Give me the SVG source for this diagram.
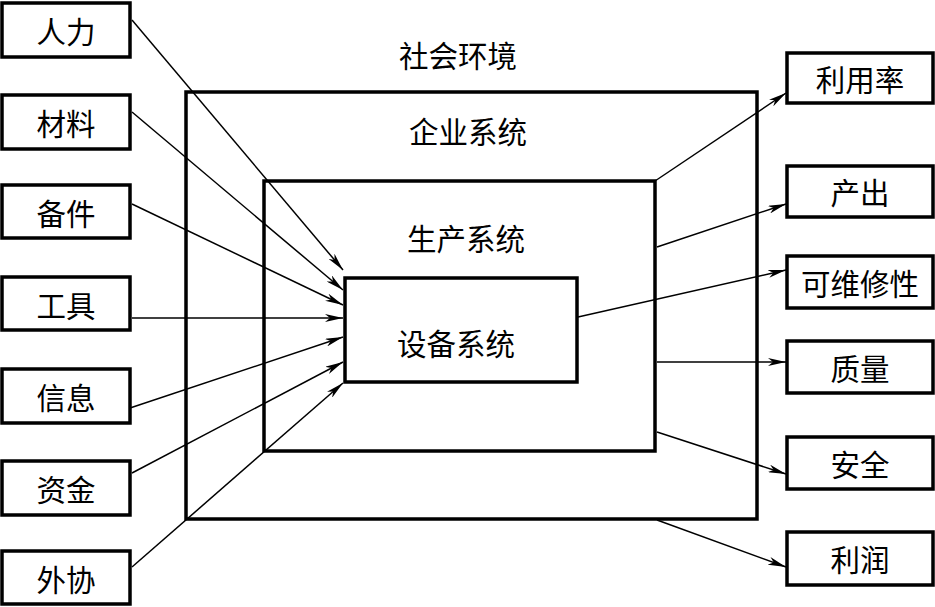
<svg xmlns="http://www.w3.org/2000/svg" width="935" height="607" viewBox="0 0 935 607">
<defs>
<marker id="ah" viewBox="0 0 18 8" refX="18" refY="4" markerWidth="18" markerHeight="8" markerUnits="userSpaceOnUse" orient="auto">
<path d="M0,0 L18,4 L0,8 L5,4 z" fill="#000"/>
</marker>
<style>
.box{fill:#fff;stroke:#000;stroke-width:3.5}
.sys{fill:none;stroke:#000;stroke-width:3.5}
.t{font-family:"Noto Sans CJK SC","Noto Sans CJK JP",sans-serif;font-size:29.5px;text-anchor:middle;dominant-baseline:central;fill:#000}
.c{fill:none;stroke:#000;stroke-width:1.5;marker-end:url(#ah)}
</style>
</defs>
<rect width="935" height="607" fill="#fff"/>
<g id="env"><text class="t" x="458" y="54">社会环境</text></g>
<g id="enterprise"><rect class="sys" x="186" y="92" width="571" height="427"/><text class="t" x="468" y="130">企业系统</text></g>
<g id="production"><rect class="sys" x="264" y="181" width="391" height="270"/><text class="t" x="466" y="237">生产系统</text></g>
<g id="equipment"><rect class="sys" x="345" y="278" width="232" height="104"/><text class="t" x="456" y="342">设备系统</text></g>
<g id="in1"><rect class="box" x="2" y="3" width="128" height="54"/><text class="t" x="66" y="30">人力</text></g>
<g id="in2"><rect class="box" x="2" y="95" width="128" height="54"/><text class="t" x="66" y="122">材料</text></g>
<g id="in3"><rect class="box" x="2" y="185" width="128" height="53"/><text class="t" x="66" y="212">备件</text></g>
<g id="in4"><rect class="box" x="2" y="277" width="128" height="53"/><text class="t" x="66" y="304">工具</text></g>
<g id="in5"><rect class="box" x="2" y="369" width="128" height="54"/><text class="t" x="66" y="396">信息</text></g>
<g id="in6"><rect class="box" x="2" y="461" width="128" height="54"/><text class="t" x="66" y="488">资金</text></g>
<g id="in7"><rect class="box" x="2" y="551" width="128" height="53"/><text class="t" x="66" y="578">外协</text></g>
<g id="out1"><rect class="box" x="787" y="53" width="146" height="50"/><text class="t" x="860" y="78">利用率</text></g>
<g id="out2"><rect class="box" x="787" y="166" width="146" height="51"/><text class="t" x="860" y="191">产出</text></g>
<g id="out3"><rect class="box" x="787" y="256" width="146" height="52"/><text class="t" x="860" y="282">可维修性</text></g>
<g id="out4"><rect class="box" x="787" y="341" width="146" height="52"/><text class="t" x="860" y="367">质量</text></g>
<g id="out5"><rect class="box" x="787" y="437" width="146" height="52"/><text class="t" x="860" y="463">安全</text></g>
<g id="out6"><rect class="box" x="787" y="532" width="146" height="53"/><text class="t" x="860" y="558">利润</text></g>
<g id="connectors">
<line class="c" x1="132" y1="20" x2="343" y2="270"/>
<line class="c" x1="132" y1="112" x2="343" y2="290"/>
<line class="c" x1="132" y1="204" x2="343" y2="305"/>
<line class="c" x1="132" y1="318" x2="343" y2="318"/>
<line class="c" x1="130" y1="408" x2="343" y2="337"/>
<line class="c" x1="132" y1="473" x2="343" y2="362"/>
<line class="c" x1="132" y1="567" x2="343" y2="383"/>
<line class="c" x1="655" y1="181" x2="786" y2="93"/>
<line class="c" x1="657" y1="247" x2="786" y2="204"/>
<line class="c" x1="578" y1="317" x2="786" y2="270"/>
<line class="c" x1="657" y1="362" x2="786" y2="362"/>
<line class="c" x1="657" y1="432" x2="786" y2="474"/>
<line class="c" x1="657" y1="520" x2="786" y2="567"/>
</g>
</svg>
